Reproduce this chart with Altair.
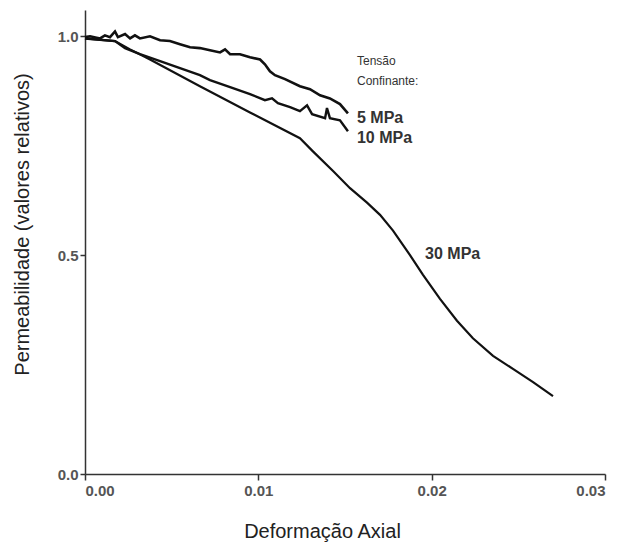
import altair as alt
import pandas as pd

# 5 MPa
x5 = [0, 0.00029, 0.00087, 0.00115, 0.00144, 0.00173, 0.0019, 0.00231, 0.0026, 0.00288, 0.00317,
      0.00375, 0.00433, 0.0049, 0.00548, 0.00606, 0.00663, 0.00721, 0.00779, 0.00808, 0.00837,
      0.00894, 0.00952, 0.0101, 0.01038, 0.01067, 0.01096, 0.01154, 0.0124, 0.01298, 0.01356,
      0.01413, 0.01471, 0.01517]
y5 = [0.998, 1.0, 0.995, 1.002, 0.998, 1.011, 0.998, 1.005, 0.995, 1.002, 0.995,
      1.0, 0.991, 0.989, 0.982, 0.975, 0.973, 0.968, 0.963, 0.970, 0.959,
      0.959, 0.952, 0.947, 0.936, 0.920, 0.911, 0.902, 0.886, 0.879, 0.865,
      0.858, 0.845, 0.824]

# 10 MPa
x10 = [0, 0.00173, 0.00231, 0.00317, 0.00433, 0.00548, 0.00663, 0.00721, 0.00837, 0.00952, 0.01038,
       0.01079, 0.01113, 0.01183, 0.0124, 0.01281, 0.0131, 0.01385, 0.01396, 0.01413, 0.01471, 0.01517]
y10 = [0.995, 0.989, 0.973, 0.959, 0.943, 0.927, 0.911, 0.900, 0.884, 0.868, 0.854,
       0.858, 0.847, 0.838, 0.829, 0.842, 0.822, 0.813, 0.836, 0.813, 0.808, 0.783]

# 30 MPa
x30 = [0, 0.00173, 0.0026, 0.00375, 0.00663, 0.00952, 0.0124, 0.01315, 0.01431, 0.01529, 0.01627,
       0.01702, 0.01777, 0.01875, 0.0195, 0.02048, 0.02146, 0.02238, 0.02354, 0.02469,
       0.02585, 0.027]
y30 = [0.995, 0.989, 0.970, 0.947, 0.886, 0.826, 0.767, 0.737, 0.692, 0.653, 0.620,
       0.592, 0.556, 0.500, 0.455, 0.400, 0.350, 0.310, 0.270, 0.240,
       0.210, 0.178]

note_text = ["Tensão", "Confinante:"]
note_x = [0.01569, 0.01569]
note_y = [0.943, 0.897]

series_text = ["5 MPa", "10 MPa", "30 MPa"]
series_x = [0.01569, 0.01569, 0.01962]
series_y = [0.813, 0.767, 0.502]

rows = []
for name, xs, ys in [("5 MPa", x5, y5), ("10 MPa", x10, y10), ("30 MPa", x30, y30)]:
    for i, (a, b) in enumerate(zip(xs, ys)):
        rows.append({"serie": name, "ordem": i, "x": a, "y": b})
df = pd.DataFrame(rows)

notes = pd.DataFrame({"t": note_text, "x": note_x, "y": note_y})
slabels = pd.DataFrame({"t": series_text, "x": series_x, "y": series_y})

xscale = alt.Scale(domain=[0, 0.03], nice=False, zero=False)
yscale = alt.Scale(domain=[0, 1.06], nice=False)

lines = alt.Chart(df).mark_line(color="#111111").encode(
    x=alt.X("x:Q", scale=xscale,
            axis=alt.Axis(title="Deformação Axial", values=[0, 0.01, 0.02, 0.03], format=".2f",
                          grid=False, domainColor="#333333", domainWidth=1.5, tickColor="#333333",
                          tickWidth=1.5, tickSize=6, labelFont="Liberation Sans", labelFontSize=15,
                          labelFontWeight="bold", labelColor="#555555", labelPadding=3,
                          titleFont="Liberation Sans", titleFontSize=20, titleFontWeight="normal",
                          titleColor="#222222", titleX=237, titleY=57, titleBaseline="middle")),
    y=alt.Y("y:Q", scale=yscale,
            axis=alt.Axis(title="Permeabilidade (valores relativos)", values=[0, 0.5, 1.0], format=".1f",
                          grid=False, domainColor="#333333", domainWidth=1.5, tickColor="#333333",
                          tickWidth=1.5, tickSize=5, labelFont="Liberation Sans", labelFontSize=15,
                          labelFontWeight="bold", labelColor="#555555", labelPadding=2,
                          titleFont="Liberation Sans", titleFontSize=20, titleFontWeight="normal",
                          titleColor="#222222", titleX=-63, titleY=214, titleBaseline="middle")),
    strokeWidth=alt.StrokeWidth("serie:N",
                                scale=alt.Scale(domain=["5 MPa", "10 MPa", "30 MPa"], range=[2.6, 2.2, 1.9]),
                                legend=None),
    detail="serie:N",
    order="ordem:Q",
)

note_marks = alt.Chart(notes).mark_text(align="left", baseline="middle", font="Liberation Sans",
                                        fontSize=12, color="#333333").encode(
    x=alt.X("x:Q", scale=xscale),
    y=alt.Y("y:Q", scale=yscale),
    text="t:N",
)

series_marks = alt.Chart(slabels).mark_text(align="left", baseline="middle", font="Liberation Sans",
                                            fontSize=16, fontWeight="bold", color="#333333").encode(
    x=alt.X("x:Q", scale=xscale),
    y=alt.Y("y:Q", scale=yscale),
    text="t:N",
)

chart = alt.layer(lines, note_marks, series_marks).properties(
    width=520, height=464,
    padding={"left": 85, "top": 10, "right": 28, "bottom": 70},
    autosize=alt.AutoSizeParams(type="none"),
    background="white",
).configure_view(stroke=None)

chart.save("out.html", embed_options={"renderer": "svg", "actions": False})
